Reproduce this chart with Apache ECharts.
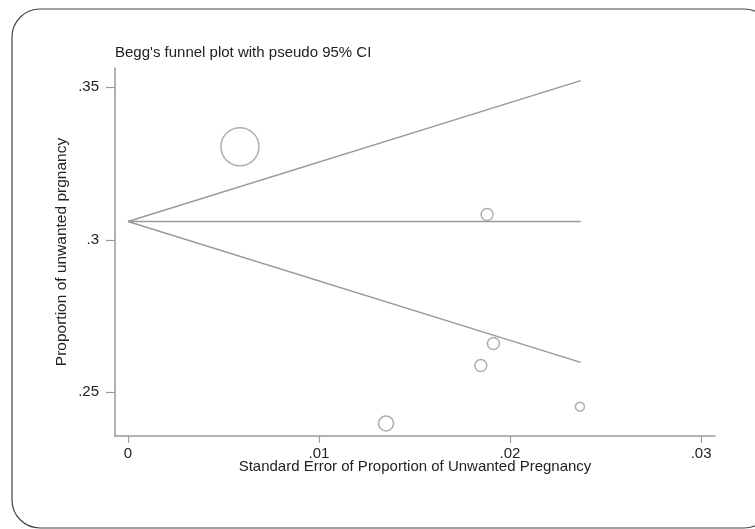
<!DOCTYPE html>
<html>
<head>
<meta charset="utf-8">
<script src="https://cdn.jsdelivr.net/npm/echarts@6/dist/echarts.min.js"></script>
<style>
html,body{margin:0;padding:0;background:#fff;}
#main{width:755px;height:529px;}
</style>
</head>
<body>
<div id="main"></div>
<script>
// ---- data ----
const titleText = "Begg's funnel plot with pseudo 95% CI";
const xName = "Standard Error of Proportion of Unwanted Pregnancy";
const yName = "Proportion of unwanted prgnancy";

const seValues   = [0.00586, 0.01880, 0.01913, 0.01847, 0.01351, 0.02366];
const propValues = [0.3305, 0.3083, 0.2660, 0.2588, 0.2398, 0.2453];
const weights    = [38, 12, 12, 12, 15, 9];

const funnelX   = [0, 0.0237];
const centerY   = [0.3060, 0.3060];
const upperY    = [0.3060, 0.3522];
const lowerY    = [0.3060, 0.2598];

const xTicks = [0, 0.01, 0.02, 0.03];
const xTickLabels = ['0', '.01', '.02', '.03'];
const yTicks = [0.25, 0.3, 0.35];
const yTickLabels = ['.25', '.3', '.35'];

// ---- chart ----
const chart = echarts.init(document.getElementById('main'), null, {renderer: 'canvas'});
const font = '"Liberation Sans", Arial, sans-serif';
const lineColor = '#9a9a9a';
const textColor = '#222';

function labelFor(ticks, labels) {
  return function (v) {
    for (let i = 0; i < ticks.length; i++) {
      if (Math.abs(ticks[i] - v) < 1e-9) return labels[i];
    }
    return '';
  };
}
function pairs(xs, ys) { return xs.map((x, i) => [x, ys[i]]); }

const lineSeries = (ys) => ({
  type: 'line',
  data: pairs(funnelX, ys),
  symbol: 'none',
  lineStyle: {color: lineColor, width: 1.5},
  silent: true,
  z: 2
});

chart.setOption({
  animation: false,
  backgroundColor: '#fff',
  title: {
    text: titleText,
    left: 115,
    top: 45,
    padding: 0,
    textStyle: {fontFamily: font, fontSize: 15, fontWeight: 'normal', color: textColor}
  },
  grid: {left: 115, right: 40, top: 68, bottom: 93, containLabel: false},
  xAxis: {
    type: 'value',
    min: -0.00068,
    max: 0.03073,
    name: xName,
    nameLocation: 'middle',
    nameGap: 23,
    nameMoveOverlap: false,
    nameTextStyle: {fontFamily: font, fontSize: 15, color: textColor},
    axisLine: {show: true, onZero: false, lineStyle: {color: lineColor, width: 1.5}},
    axisTick: {show: true, length: 7, customValues: xTicks, lineStyle: {color: lineColor, width: 1.2}},
    axisLabel: {customValues: xTicks, formatter: labelFor(xTicks, xTickLabels), fontFamily: font, fontSize: 15, color: textColor, margin: 10},
    splitLine: {show: false}
  },
  yAxis: {
    type: 'value',
    min: 0.23567,
    max: 0.35633,
    name: yName,
    nameLocation: 'middle',
    nameGap: 45,
    nameMoveOverlap: false,
    nameTextStyle: {fontFamily: font, fontSize: 15.5, color: textColor},
    axisLine: {show: true, onZero: false, lineStyle: {color: lineColor, width: 1.5}},
    axisTick: {show: true, length: 9, customValues: yTicks, lineStyle: {color: lineColor, width: 1.2}},
    axisLabel: {customValues: yTicks, formatter: labelFor(yTicks, yTickLabels), fontFamily: font, fontSize: 15, color: textColor, margin: 16},
    splitLine: {show: false}
  },
  series: [
    lineSeries(centerY),
    lineSeries(upperY),
    lineSeries(lowerY),
    {
      type: 'scatter',
      data: seValues.map((x, i) => [x, propValues[i], weights[i]]),
      symbol: 'circle',
      symbolSize: (d) => d[2],
      itemStyle: {color: 'rgba(255,255,255,0)', borderColor: lineColor, borderWidth: 1.5},
      z: 3
    }
  ],
  graphic: [{
    type: 'rect',
    shape: {x: 12, y: 9, width: 760, height: 519, r: 28},
    style: {fill: null, stroke: '#444', lineWidth: 1.2},
    silent: true,
    z: 100
  }]
});
</script>
</body>
</html>
